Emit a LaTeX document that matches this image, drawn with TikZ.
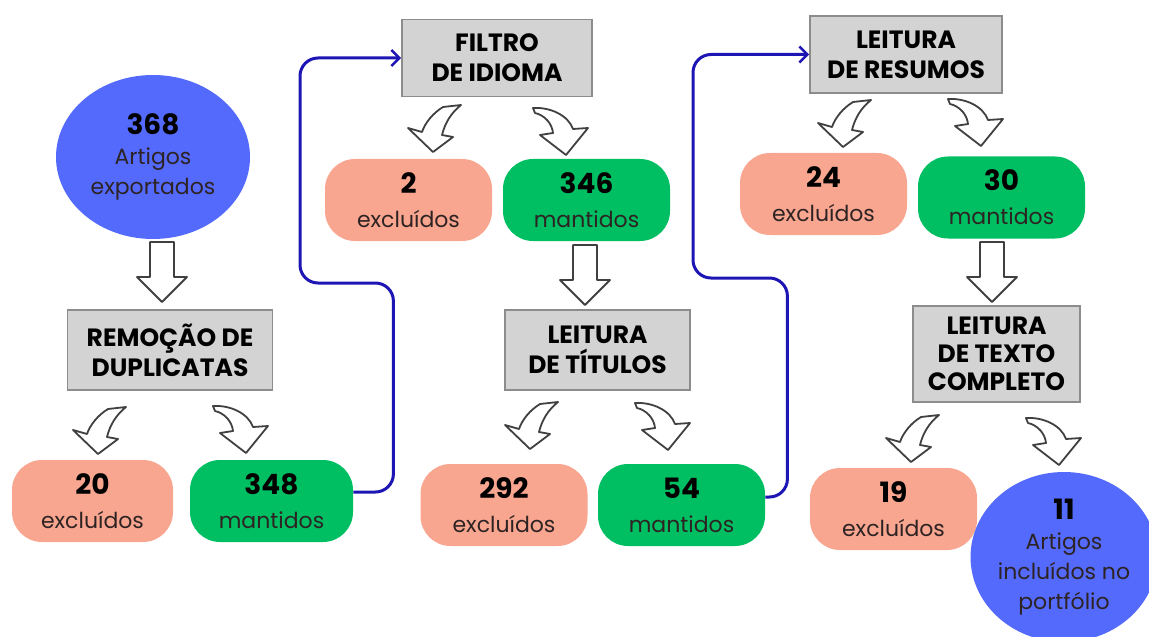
\documentclass[tikz,border=0pt]{standalone}
\usepackage{fontspec}
\setmainfont{Poppins}
\usetikzlibrary{shapes.geometric, arrows.meta, positioning, calc}

\definecolor{azulart}{RGB}{84,106,252}
\definecolor{salmao}{RGB}{249,166,144}
\definecolor{verde}{RGB}{0,191,99}
\definecolor{cinza}{RGB}{211,211,211}
\definecolor{bordacinza}{RGB}{140,140,140}
\definecolor{azulfio}{RGB}{30,22,180}
\definecolor{textopill}{RGB}{45,35,35}

\newcommand{\qtd}[1]{{\fontsize{14pt}{15pt}\selectfont\bfseries\color{black}#1}}

\begin{document}
\begin{tikzpicture}[
    x=0.5pt, y=-0.5pt,
    >=Stealth,
    etapa/.style={rectangle, draw=bordacinza, fill=cinza, line width=0.8pt, align=center, inner sep=0pt, font=\fontsize{12.5pt}{15pt}\selectfont\bfseries},
    excl/.style={rectangle, rounded corners=15pt, fill=salmao, minimum width=83.5pt, minimum height=41pt, align=center, inner sep=0pt, text=textopill, font=\fontsize{11pt}{17pt}\selectfont},
    mant/.style={excl, fill=verde},
    total/.style={ellipse, fill=azulart, inner sep=0pt, align=center, text=textopill, font=\fontsize{11pt}{15pt}\selectfont},
    oco/.style={draw=black!75, fill=white, line width=0.9pt, line join=round},
    ligacao/.style={->, draw=azulfio, line width=1.5pt, rounded corners=9pt, >={Straight Barb[length=4pt, width=8pt, line width=1.3pt]}},
    curvaesq/.pic={
        \draw[oco] (38,4) .. controls (28,10) and (20,20) .. (17,29) -- (3,25) -- (28,49) -- (48,34) -- (37,32) .. controls (40,20) and (46,10) .. (56,2) -- cycle;
    },
    curvadir/.pic={
        \draw[oco] (3,3) .. controls (20,2) and (38,10) .. (43,24) -- (58,23) -- (36,50) -- (10,30) -- (23,28) .. controls (22,18) and (14,10) .. (5,8) -- cycle;
    },
    setabaixo/.pic={
        \draw[oco] (-12,-30) -- (12,-30) -- (12,5) -- (25,5) -- (0,30) -- (-25,5) -- (-12,5) -- cycle;
    }
]
\useasboundingbox (0,0) rectangle (1149,636);
\clip (0,0) rectangle (1149,636);

% --- Coluna 1 ---
\node[total, minimum width=97pt, minimum height=82pt] (art368) at (153,157) {\qtd{368}\\Artigos\\exportados};
\node[etapa, minimum width=102.5pt, minimum height=40pt] (dupl) at (170,350) {REMOÇÃO DE\\DUPLICATAS};
\node[excl, minimum width=80.5pt] (exc20) at (92.5,501) {\qtd{20}\\excluídos};
\node[mant, minimum width=81.5pt] (man348) at (271.5,501) {\qtd{348}\\mantidos};

% --- Coluna 2 ---
\node[etapa, minimum width=95pt, minimum height=38.5pt] (idioma) at (497,58) {FILTRO\\DE IDIOMA};
\node[excl] (exc2) at (408.5,200) {\qtd{2}\\excluídos};
\node[mant] (man346) at (586.5,200) {\qtd{346}\\mantidos};
\node[etapa, minimum width=92.5pt, minimum height=40pt] (titulos) at (597.5,350) {LEITURA\\DE TÍTULOS};
\node[excl] (exc292) at (504,505) {\qtd{292}\\excluídos};
\node[mant] (man54) at (681.5,505) {\qtd{54}\\mantidos};

% --- Coluna 3 ---
\node[etapa, minimum width=96pt, minimum height=38.5pt] (resumos) at (906,54.5) {LEITURA\\DE RESUMOS};
\node[excl] (exc24) at (823.5,194) {\qtd{24}\\excluídos};
\node[mant] (man30) at (1001.5,197.5) {\qtd{30}\\mantidos};
\node[etapa, minimum width=83.5pt, minimum height=48pt, font=\fontsize{12.5pt}{14pt}\selectfont\bfseries] (completo) at (996.5,354) {LEITURA\\DE TEXTO\\COMPLETO};
\node[excl] (exc19) at (893.5,509) {\qtd{19}\\excluídos};
\node[total, minimum width=86pt, minimum height=85pt] (art11) at (1064,557) {\qtd{11}\\Artigos\\incluídos no\\portfólio};

% --- Setas ocas ---
\pic at (162,272) {setabaixo};
\pic at (585,275) {setabaixo};
\pic at (992,272) {setabaixo};

\pic at (70,405) {curvaesq};
\pic at (210,403) {curvadir};
\pic at (405,103) {curvaesq};
\pic at (530,105) {curvadir};
\pic at (502,400) {curvaesq};
\pic at (632,400) {curvadir};
\pic at (815,98) {curvaesq};
\pic at (945,96) {curvadir};
\pic at (883,413) {curvaesq};
\pic at (1023,415) {curvadir};

% --- Ligacoes azuis ---
\draw[ligacao] ([yshift=4.5pt]man348.east) -- ++(40,0) |- (300,283) |- (idioma.west);
\draw[ligacao] ([yshift=4pt]man54.east) -- ++(22,0) |- (693,278) |- (resumos.west);

\end{tikzpicture}
\end{document}
